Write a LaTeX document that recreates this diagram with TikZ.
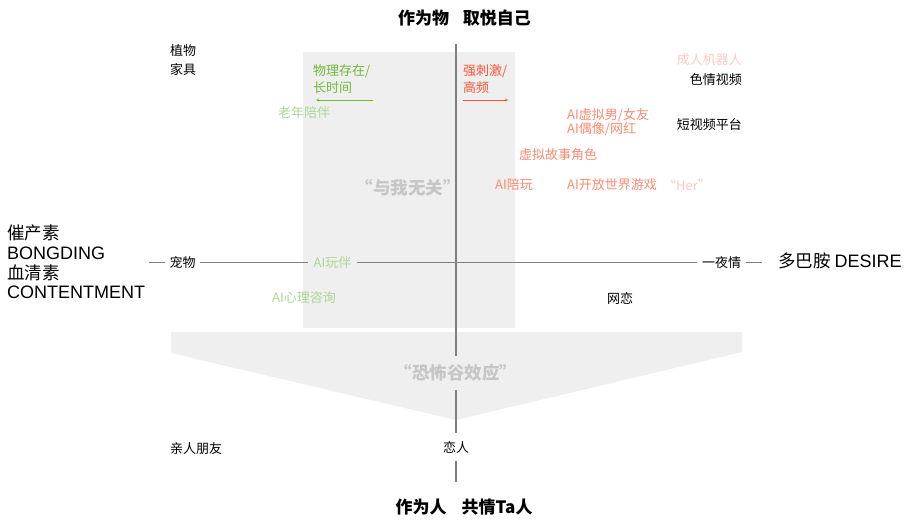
\documentclass[tikz,border=0pt]{standalone}
\usepackage{fontspec}
\setmainfont{Noto Sans CJK SC}
\newfontfamily\lat{Liberation Sans}
\usetikzlibrary{arrows.meta,positioning}
\definecolor{bgray}{HTML}{EFEFEF}
\definecolor{axisgray}{HTML}{7F7F7F}
\definecolor{dgreen}{HTML}{6DBB3A}
\definecolor{lgreen}{HTML}{ADD793}
\definecolor{hred}{HTML}{FF5536}
\definecolor{salmon}{HTML}{FA8B70}
\definecolor{lpink}{HTML}{FCCAC2}
\definecolor{ghost}{HTML}{C6C6C6}
\tikzset{
  lbl/.style={inner sep=0pt,font=\fontsize{13}{16}\selectfont},
  big/.style={inner sep=0pt,font=\fontsize{17.5}{20}\selectfont},
  ttl/.style={inner sep=0pt,font=\fontsize{17}{20}\selectfont\bfseries},
  ghostlbl/.style={inner sep=0pt,text=ghost,font=\fontsize{17.5}{20}\selectfont\bfseries},
  vaxis/.style={draw=axisgray,line width=1.6pt},
  haxis/.style={draw=axisgray,line width=1pt},
  tip/.style={line width=1pt,-{Stealth[length=3pt,width=3pt]}}
}
\begin{document}
\begin{tikzpicture}[x=1pt,y=-1pt]
\useasboundingbox (0,0) rectangle (909,522);
\fill[bgray] (303,52) rectangle (515,328);
\fill[bgray] (171,332) -- (742,332) -- (742,352) -- (456,420) -- (171,353) -- cycle;

\node[ttl] (thing) at (464.5,18) {作为物\hspace{14pt}取悦自己};
\node[ttl] (person) at (464,507) {作为人\hspace{15pt}共情Ta人};
\foreach \t [count=\i] in {催产素,{\lat\fontsize{18}{20}\selectfont BONGDING},血清素,{\lat\fontsize{18}{20}\selectfont CONTENTMENT}}
  \node[big,anchor=west] (hormone\i) at (7,{213.5+19.7*\i}) {\t};
\node[big,anchor=west] (dopa) at (778,260.5) {多巴胺 {\lat\fontsize{18}{20}\selectfont DESIRE}};

\coordinate (ytop) at (456,44); \coordinate (ybot) at (456,482);
\coordinate (xleft) at (149,262.5); \coordinate (xright) at (762,262.5);
\node[lbl,minimum width=34pt] (pet) at (182.5,262.5) {宠物};
\node[lbl,text=lgreen,minimum width=49pt] (aipal) at (332.5,262.5) {AI玩伴};
\node[lbl,minimum width=49pt] (onenight) at (721.5,262.5) {一夜情};
\node[ghostlbl,minimum height=33pt] (valley) at (456,373) {“恐怖谷效应”};
\node[lbl,minimum height=28pt] (lover) at (456,447) {恋人};
\node[ghostlbl] (noone) at (408,188) {“与我无关”};

\node[lbl,anchor=west] (plant) at (170,51) {植物};
\node[lbl,anchor=west] (furn) at (170,69.5) {家具};
\node[lbl,anchor=west] (family) at (170,449) {亲人朋友};
\node[lbl,anchor=west] (netlove) at (607,298) {网恋};
\node[lbl,anchor=west,text=lgreen] (elder) at (278,113) {老年陪伴};
\node[lbl,anchor=west,text=lgreen] (aitherapy) at (272,298) {AI心理咨询};
\node[lbl,anchor=west,text=dgreen] (phys1) at (313,71) {物理存在/};
\node[lbl,anchor=west,text=dgreen] (phys2) at (313,87.5) {长时间};
\node[lbl,anchor=west,text=hred] (stim1) at (463,71) {强刺激/};
\node[lbl,anchor=west,text=hred] (stim2) at (463,87.5) {高频};
\node[lbl,anchor=east,text=lpink] (robot) at (742,60) {成人机器人};
\node[lbl,anchor=east] (porn) at (742,80) {色情视频};
\node[lbl,anchor=east] (shortvid) at (742,125) {短视频平台};
\node[lbl,anchor=west,text=salmon] (aigf) at (567,115) {AI虚拟男/女友};
\node[lbl,anchor=west,text=salmon] (aiidol) at (567,129.5) {AI偶像/网红};
\node[lbl,anchor=west,text=salmon] (story) at (519,155) {虚拟故事角色};
\node[lbl,anchor=west,text=salmon] (aiplay) at (495,185) {AI陪玩};
\node[lbl,anchor=west,text=salmon] (aigame) at (567,185) {AI开放世界游戏};
\node[lbl,anchor=west,text=lpink] (her) at (663,185) {“Her”};

\draw[vaxis] (ytop) -- (valley) -- (lover) -- (ybot);
\draw[haxis] (xleft) -- (pet) -- (aipal) -- (onenight) -- (xright);
\coordinate (gfrom) at (373,100); \coordinate (gto) at (316,100);
\coordinate (rfrom) at (463,100); \coordinate (rto) at (508,100);
\draw[tip,dgreen] (gfrom) -- (gto);
\draw[tip,hred] (rfrom) -- (rto);
\end{tikzpicture}
\end{document}
